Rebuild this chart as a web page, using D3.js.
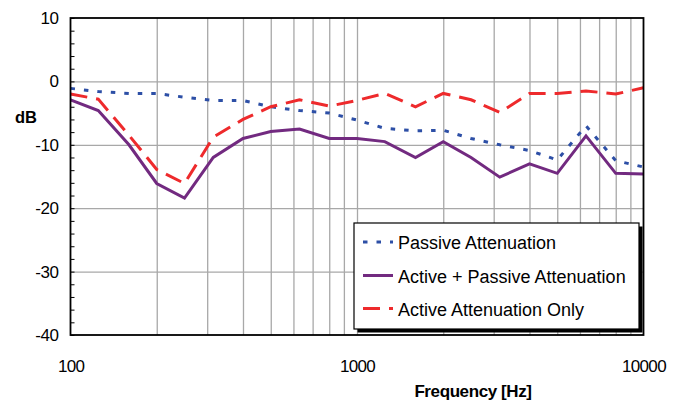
<!DOCTYPE html>
<html>
<head>
<meta charset="utf-8">
<script src="https://cdn.jsdelivr.net/npm/d3@7"></script>
<style>
  html, body { margin: 0; padding: 0; background: #fff; }
  svg { display: block; font-family: "Liberation Sans", Arial, sans-serif; }
</style>
</head>
<body>
<svg id="chart" width="684" height="401"></svg>
<script>
// ---- data ----
const frequencies = [100, 125, 160, 200, 250, 315, 400, 500, 630, 800, 1000, 1250, 1600, 2000, 2500, 3150, 4000, 5000, 6300, 8000, 10000];
const passive       = [-1.1, -1.6, -1.9, -1.9, -2.5, -3.0, -3.0, -4.0, -4.6, -5.0, -6.1, -7.4, -7.8, -7.7, -9.0, -10.0, -10.9, -12.4, -7.0, -12.5, -13.5];
const activePassive = [-2.9, -4.6, -10.0, -16.1, -18.4, -12.0, -9.0, -7.9, -7.5, -9.0, -9.0, -9.5, -12.0, -9.5, -12.0, -15.1, -13.0, -14.5, -8.6, -14.5, -14.6];
const activeOnly    = [-2.0, -2.8, -8.5, -13.9, -16.1, -8.8, -6.0, -4.0, -2.9, -3.9, -3.0, -1.9, -4.0, -1.9, -2.9, -4.9, -1.9, -1.9, -1.5, -2.0, -1.0];
const seriesNames = ["Passive Attenuation", "Active + Passive Attenuation", "Active Attenuation Only"];
const xTickLabels = [100, 1000, 10000];
const yTickLabels = [10, 0, -10, -20, -30, -40];
const yGridValues = [0, -10, -20, -30];
const xGridValues = [200, 300, 400, 500, 600, 700, 800, 900, 1000, 2000, 3000, 4000, 5000, 6000, 7000, 8000, 9000];
const yMinorTicks = d3.range(-40, 11, 2);
const xTitle = "Frequency [Hz]";
const yTitle = "dB";

// ---- layout ----
const L = 70.5, R = 643.5, T = 18, B = 335;
const svg = d3.select("#chart");
const x = d3.scaleLog().domain([100, 10000]).range([L, R]);
const y = d3.scaleLinear().domain([-40, 10]).range([B, T]);

const styles = [
  { color: "#2d4fa6", dash: "4.5,9", width: 3 },
  { color: "#722a80", dash: null, width: 3 },
  { color: "#ee2a2c", dash: "17,9", width: 3 }
];
const allSeries = [passive, activePassive, activeOnly];
const plainFmt = d => String(d);

// grid: vertical
const gx = svg.append("g")
  .attr("transform", `translate(0,${B})`)
  .call(d3.axisBottom(x).tickValues(xGridValues).tickSize(-(B - T)).tickFormat(""));
gx.select(".domain").remove();
gx.selectAll("line").attr("stroke", "#a8a8a8").attr("stroke-width", 1.3);

// grid: horizontal
const gy = svg.append("g")
  .attr("transform", `translate(${L},0)`)
  .call(d3.axisRight(y).tickValues(yGridValues).tickSize(R - L).tickFormat(""));
gy.select(".domain").remove();
gy.selectAll("line").attr("stroke", "#a8a8a8").attr("stroke-width", 1.3);

// minor ticks on left axis (inside)
const mt = svg.append("g")
  .attr("transform", `translate(${L},0)`)
  .call(d3.axisRight(y).tickValues(yMinorTicks).tickSize(4).tickFormat(""));
mt.select(".domain").remove();
mt.selectAll("line").attr("stroke", "#000").attr("stroke-width", 1);

// series lines
const line = d3.line().x((d, i) => x(frequencies[i])).y(d => y(d));
allSeries.forEach((s, k) => {
  svg.append("path")
    .datum(s)
    .attr("d", line)
    .attr("fill", "none")
    .attr("stroke", styles[k].color)
    .attr("stroke-width", styles[k].width)
    .attr("stroke-dasharray", styles[k].dash)
    .attr("stroke-linejoin", "miter");
});

// frame
svg.append("rect")
  .attr("x", L).attr("y", T)
  .attr("width", R - L).attr("height", B - T)
  .attr("fill", "none").attr("stroke", "#000").attr("stroke-width", 1.8);

// y tick labels
const yl = svg.append("g")
  .attr("transform", `translate(${L},0)`)
  .call(d3.axisLeft(y).tickValues(yTickLabels).tickSize(0).tickPadding(12).tickFormat(plainFmt));
yl.select(".domain").remove();
yl.selectAll("text").attr("font-size", 17).attr("fill", "#000")
  .attr("font-family", "'Liberation Sans', Arial, sans-serif").attr("letter-spacing", -0.4);

// x tick labels
const xl = svg.append("g")
  .attr("transform", `translate(0,${B})`)
  .call(d3.axisBottom(x).tickValues(xTickLabels).tickSize(0).tickPadding(25).tickFormat(plainFmt));
xl.select(".domain").remove();
xl.selectAll("text").attr("font-size", 17).attr("fill", "#000")
  .attr("font-family", "'Liberation Sans', Arial, sans-serif").attr("letter-spacing", -0.7);

// axis titles
svg.append("text").attr("x", 26).attr("y", 123).attr("text-anchor", "middle")
  .attr("font-size", 16.5).attr("font-weight", "bold").text(yTitle);
svg.append("text").attr("x", 473).attr("y", 397).attr("text-anchor", "middle")
  .attr("font-size", 17).attr("font-weight", "bold").attr("letter-spacing", -0.4).text(xTitle);

// legend
const lx = 354, ly = 223, lw = 285, lh = 106;
svg.append("rect").attr("x", lx + 3.5).attr("y", ly + 3.5).attr("width", lw).attr("height", lh).attr("fill", "#000");
svg.append("rect").attr("x", lx).attr("y", ly).attr("width", lw).attr("height", lh)
  .attr("fill", "#fff").attr("stroke", "#000").attr("stroke-width", 1.2);
const rowY = [242, 275.5, 308.5];
seriesNames.forEach((name, k) => {
  svg.append("line")
    .attr("x1", 363).attr("x2", 393).attr("y1", rowY[k]).attr("y2", rowY[k])
    .attr("stroke", styles[k].color).attr("stroke-width", styles[k].width)
    .attr("stroke-dasharray", styles[k].dash);
  svg.append("text").attr("x", 398).attr("y", rowY[k] + 7)
    .attr("font-size", 18).attr("fill", "#000").text(name);
});
</script>
</body>
</html>
